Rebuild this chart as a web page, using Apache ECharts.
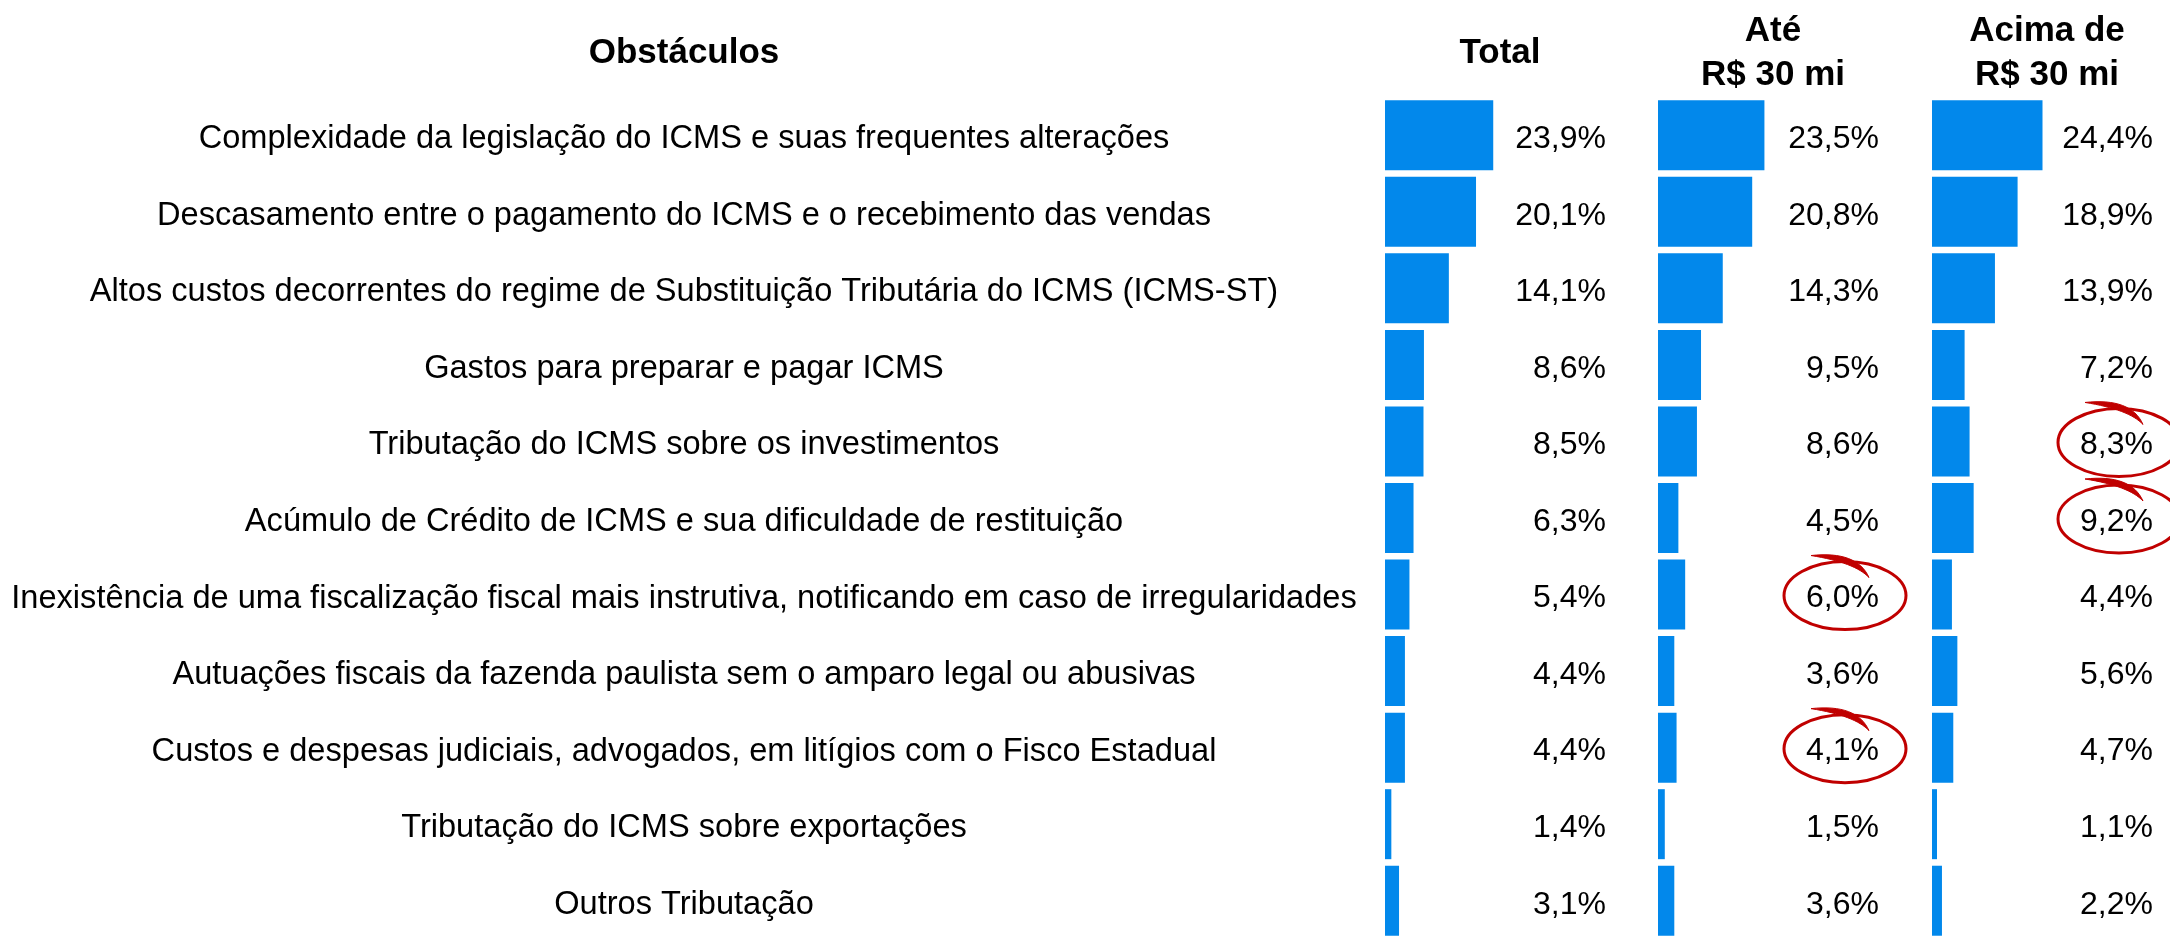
<!DOCTYPE html>
<html><head><meta charset="utf-8">
<script src="https://cdn.jsdelivr.net/npm/echarts@6/dist/echarts.min.js"></script>
<style>html,body{margin:0;padding:0;background:#fff}#c{width:2170px;height:939px}</style>
</head><body><div id="c"></div>
<script>
const categories = [
  'Complexidade da legislação do ICMS e suas frequentes alterações',
  'Descasamento entre o pagamento do ICMS e o recebimento das vendas',
  'Altos custos decorrentes do regime de Substituição Tributária do ICMS (ICMS-ST)',
  'Gastos para preparar e pagar ICMS',
  'Tributação do ICMS sobre os investimentos',
  'Acúmulo de Crédito de ICMS e sua dificuldade de restituição',
  'Inexistência de uma fiscalização fiscal mais instrutiva, notificando em caso de irregularidades',
  'Autuações fiscais da fazenda paulista sem o amparo legal ou abusivas',
  'Custos e despesas judiciais, advogados, em litígios com o Fisco Estadual',
  'Tributação do ICMS sobre exportações',
  'Outros Tributação'
];
const total   = [23.9, 20.1, 14.1, 8.6, 8.5, 6.3, 5.4, 4.4, 4.4, 1.4, 3.1];
const ate30   = [23.5, 20.8, 14.3, 9.5, 8.6, 4.5, 6.0, 3.6, 4.1, 1.5, 3.6];
const acima30 = [24.4, 18.9, 13.9, 7.2, 8.3, 9.2, 4.4, 5.6, 4.7, 1.1, 2.2];
const rowHeader = 'Obstáculos';
const columnTitles = ['Total', 'Até\nR$ 30 mi', 'Acima de\nR$ 30 mi'];
// highlighted (circled) cells: [column index, row index]
const highlights = [[1, 6], [1, 8], [2, 4], [2, 5]];

const columns = [total, ate30, acima30];
const AXIS_MAX = 48.8;
const gridLefts = [1385, 1658, 1932];
const GRID_W = 221, GRID_TOP = 97, GRID_H = 850;
const FONT = '"Liberation Sans", Arial, sans-serif';
const BLUE = '#0288EB';
const RED = '#C00000';
const LABEL_DY = 4;
const fmt = v => v.toFixed(1).replace('.', ',') + '%';

const chart = echarts.init(document.getElementById('c'), null, {renderer: 'canvas'});

const grids = [], xAxes = [], yAxes = [], series = [];
columns.forEach((vals, k) => {
  grids.push({left: gridLefts[k], top: GRID_TOP, width: GRID_W, height: GRID_H, containLabel: false});
  xAxes.push({type: 'value', gridIndex: k, min: 0, max: AXIS_MAX, show: false});
  yAxes.push({
    type: 'category', gridIndex: k, data: categories, inverse: true,
    axisLine: {show: false}, axisTick: {show: false}, splitLine: {show: false},
    axisLabel: {show: false}
  });
  series.push({
    type: 'bar', xAxisIndex: k, yAxisIndex: k, data: vals, barWidth: 70,
    itemStyle: {color: BLUE}, silent: true, animation: false, z: 3
  });
  series.push({
    type: 'bar', xAxisIndex: k, yAxisIndex: k, barWidth: 70, barGap: '-100%',
    data: vals.map(() => AXIS_MAX),
    itemStyle: {color: 'rgba(0,0,0,0)'}, silent: true, animation: false, z: 2,
    label: {
      show: true, position: 'insideRight', distance: 0, offset: [0, LABEL_DY],
      fontFamily: FONT, fontSize: 32, color: '#000',
      formatter: p => fmt(vals[p.dataIndex])
    }
  });
});
// category names, drawn as labels to the left of the first column
series.push({
  type: 'bar', xAxisIndex: 0, yAxisIndex: 0, barWidth: 70, barGap: '-100%',
  data: categories.map(() => AXIS_MAX),
  itemStyle: {color: 'rgba(0,0,0,0)'}, silent: true, animation: false, z: 1,
  label: {
    show: true, position: 'left', distance: gridLefts[0] - 684, align: 'center',
    offset: [0, LABEL_DY],
    fontFamily: FONT, fontSize: 32.6, color: '#000',
    formatter: p => categories[p.dataIndex]
  }
});

chart.setOption({
  animation: false,
  backgroundColor: '#fff',
  grid: grids, xAxis: xAxes, yAxis: yAxes, series: series
});

const graphics = [];
const headerFont = 'bold 35px ' + FONT;
graphics.push({type: 'text', style: {text: rowHeader, x: 684, y: 53, align: 'center', verticalAlign: 'middle', font: headerFont, fill: '#000'}});
columnTitles.forEach((t, k) => {
  graphics.push({type: 'text', style: {text: t, x: gridLefts[k] + 115, y: 53, align: 'center', verticalAlign: 'middle', font: headerFont, fill: '#000', lineHeight: 44}});
});

function quad(p0, c, p1, n) {
  const pts = [];
  for (let i = 0; i <= n; i++) {
    const t = i / n, a = (1 - t) * (1 - t), b = 2 * (1 - t) * t, d = t * t;
    pts.push([a * p0[0] + b * c[0] + d * p1[0], a * p0[1] + b * c[1] + d * p1[1]]);
  }
  return pts;
}

highlights.forEach(([k, r]) => {
  const p = chart.convertToPixel({xAxisIndex: k, yAxisIndex: k}, [AXIS_MAX, r]);
  const cx = p[0] - 34, cy = p[1] + 1;
  graphics.push({type: 'ellipse', shape: {cx: cx, cy: cy, rx: 61, ry: 34},
    style: {fill: 'none', stroke: RED, lineWidth: 3}, z: 10});
  const S = [cx - 34, cy - 40], E = [cx + 24, cy - 18];
  const outer = quad(S, [cx + 12, cy - 45], E, 16);
  const inner = quad(E, [cx + 10, cy - 33], S, 16);
  graphics.push({type: 'polygon', shape: {points: outer.concat(inner.slice(1))},
    style: {fill: RED, stroke: RED, lineWidth: 1}, z: 10});
});

chart.setOption({graphic: graphics});
</script>
</body></html>
